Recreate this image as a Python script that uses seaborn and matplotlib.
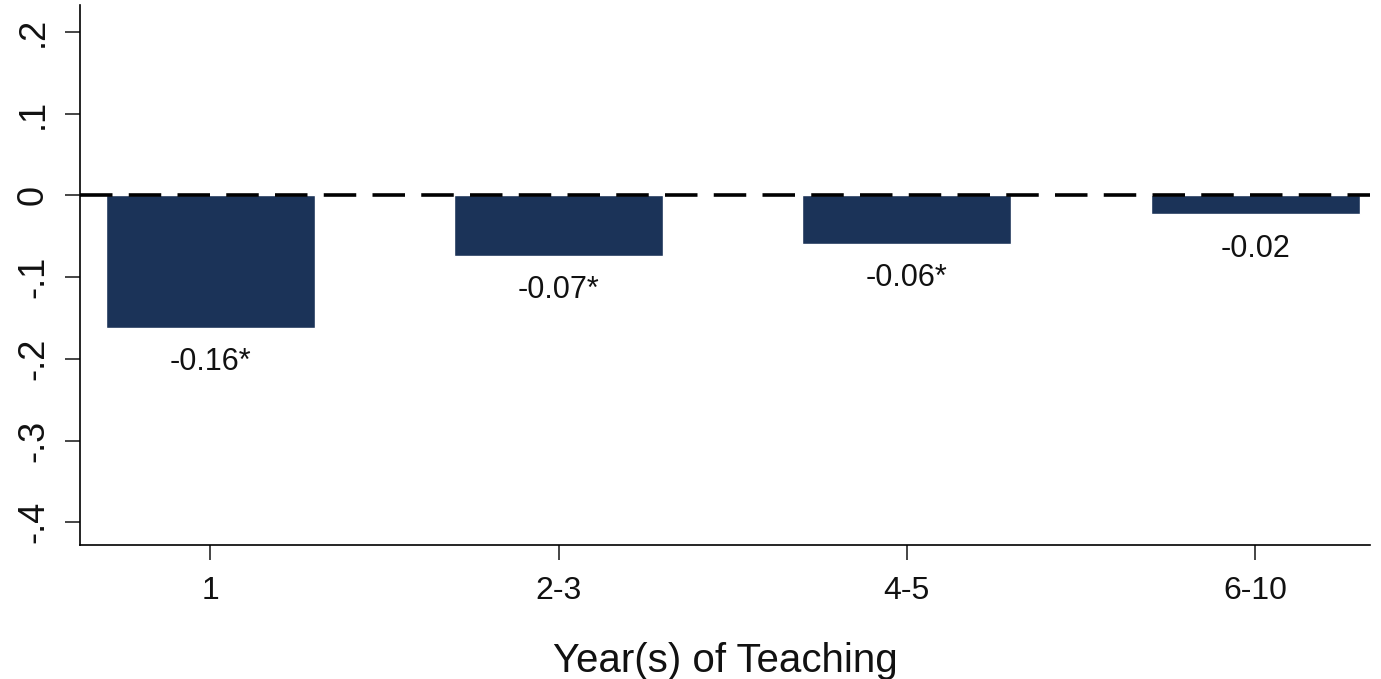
import matplotlib
matplotlib.use("Agg")
import matplotlib.pyplot as plt
import seaborn as sns
import pandas as pd

# Estimated effect by teaching experience
years = ["1", "2-3", "4-5", "6-10"]
effects = [-0.162, -0.074, -0.059, -0.023]
stars = ["*", "*", "*", ""]
yticks = [-0.4, -0.3, -0.2, -0.1, 0.0, 0.1, 0.2]
ytick_labels = ["-.4", "-.3", "-.2", "-.1", "0", ".1", ".2"]

sns.set_theme(style="white")
plt.rcParams["font.family"] = ["Liberation Sans", "DejaVu Sans"]

df = pd.DataFrame({"years": years, "effect": effects})

fig = plt.figure(figsize=(13.81, 6.79), dpi=100)
ax = fig.add_axes([0.058, 0.197, 0.934, 0.796])

sns.barplot(data=df, x="years", y="effect", color="#1b3358", width=0.6,
            saturation=1, ax=ax)

ax.axhline(0, color="black", linestyle=(0, (9, 4.5)), linewidth=2.6, zorder=3)

for i, (v, s) in enumerate(zip(effects, stars)):
    ax.annotate(f"{v:.2f}{s}", xy=(i, v), xytext=(0, -14),
                textcoords="offset points", ha="center", va="top",
                fontsize=22, color="#111111")

ax.set_xlim(-0.374, 3.33)
ax.set_ylim(-0.428, 0.233)
ax.set_yticks(yticks)
ax.set_yticklabels(ytick_labels, rotation=90, va="center", fontsize=26,
                   color="#111111")
ax.tick_params(axis="x", labelsize=23, length=11, width=1.2, direction="out",
               bottom=True, pad=11, labelcolor="#111111")
ax.tick_params(axis="y", length=11, width=1.2, direction="out", left=True,
               pad=10)
ax.set_xlabel("Year(s) of Teaching", fontsize=29, labelpad=26, color="#111111")
ax.set_ylabel("")

for side in ["top", "right"]:
    ax.spines[side].set_visible(False)
for side in ["left", "bottom"]:
    ax.spines[side].set_color("black")
    ax.spines[side].set_linewidth(1.2)

fig.savefig("out.png", dpi=100, facecolor="white")
